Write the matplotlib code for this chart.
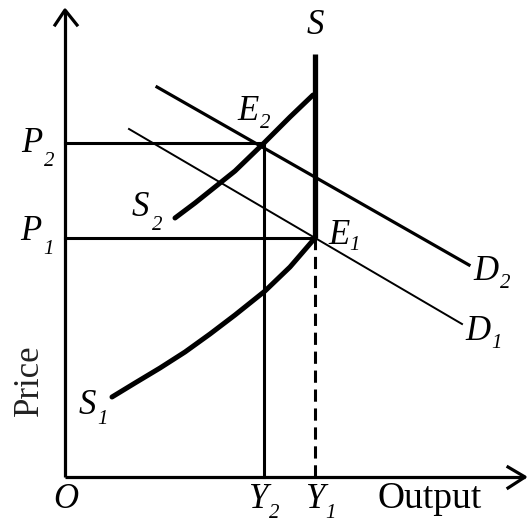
import matplotlib.pyplot as plt

# coordinates: output (x) and price (y), origin at O
y_axis_top = 467
x_axis_end = 460

# curve S1 (lower supply) and S2 (shifted supply)
s1_x = [47, 70, 95, 120, 145, 170, 200, 225, 250]
s1_y = [80, 94, 109, 125, 143, 162, 186, 210, 239]
s2_x = [110, 130, 150, 170, 199, 225, 248]
s2_y = [259, 274, 290, 306, 334, 360, 382]

# demand curves (straight lines)
d1_x = [64, 397]
d1_y = [348, 153]
d2_x = [92, 404]
d2_y = [390, 212]

# vertical long-run supply S
s_x = 250
s_top = 423

# equilibria
Y1, P1 = 250, 239
Y2, P2 = 199, 334

serif = 'Liberation Serif'

fig = plt.figure(figsize=(5.29, 5.22), dpi=100)
ax = fig.add_axes([0, 0, 1, 1])
ax.set_xlim(-65, 464)
ax.set_ylim(-45, 477)
ax.axis('off')

# axes with open arrow heads
ax.plot([0, 0], [0, y_axis_top], color='black', lw=2.3, solid_capstyle='butt')
ax.plot([0, x_axis_end], [0, 0], color='black', lw=2.3, solid_capstyle='butt')
ax.plot([-10, 0, 12], [452, y_axis_top, 452], color='black', lw=2.3)
ax.plot([443, x_axis_end, 443], [10, 0, -11], color='black', lw=2.3)

# guide lines
ax.plot([0, Y2], [P2, P2], color='black', lw=2.2)
ax.plot([0, Y1], [P1, P1], color='black', lw=2.2)
ax.plot([Y2, Y2], [0, P2], color='black', lw=2.2)
ax.plot([Y1, Y1], [0, P1], color='black', lw=2.2, ls=(0, (4, 2.2)))

# S vertical
ax.plot([s_x, s_x], [P1, s_top], color='black', lw=3.8, solid_capstyle='butt')

# demand
ax.plot(d2_x, d2_y, color='black', lw=2.3)
ax.plot(d1_x, d1_y, color='black', lw=1.4)

# supply curves
ax.plot(s1_x, s1_y, color='black', lw=3.6, solid_capstyle='round', solid_joinstyle='round')
ax.plot(s2_x, s2_y, color='black', lw=3.6, solid_capstyle='round', solid_joinstyle='round')


def label(x, y, main, sub=None, dx=16, dy=-14):
    ax.text(x, y, main, family=serif, style='italic', fontsize=25,
            ha='center', va='center')
    if sub:
        ax.text(x + dx, y + dy, sub, family=serif, style='italic', fontsize=15,
                ha='center', va='center')


label(250, 452, 'S')
label(-33, 334, 'P', '2', 17, -19)
label(-34, 246, 'P', '1', 17, -19)
label(75, 269, 'S', '2', 17, -17)
label(183, 365, 'E', '2', 17, -12)
label(274, 242, 'E', '1', 16, -11)
label(421, 206, 'D', '2', 19, -12)
label(413, 146, 'D', '1', 19, -13)
label(22, 72, 'S', '1', 15, -14)
label(1, -22, 'O')
label(193, -22, 'Y', '2', 16, -14)
label(250, -22, 'Y', '1', 16, -14)

ax.text(365, -22, 'Output', family=serif, fontsize=27, ha='center', va='center')
ax.text(-36, 97, 'Price', family=serif, fontsize=25, rotation=90,
        ha='center', va='center', color='#222222')

fig.savefig('out.png', dpi=100)
